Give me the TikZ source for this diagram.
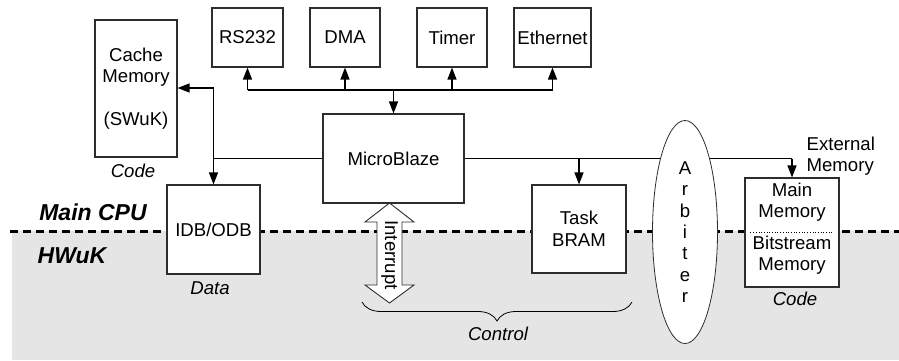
\documentclass[tikz,border=0pt]{standalone}
\usepackage{fontspec}
\setmainfont{Liberation Sans}
\usepackage{tikz}
\definecolor{ln}{RGB}{45,45,45}
\definecolor{hw}{RGB}{229,229,229}
\usetikzlibrary{shapes.geometric,decorations.pathreplacing,arrows.meta}
\def\boxh{59pt}
\newcommand{\txt}{\fontsize{18.6}{21.5}\selectfont}
\newcommand{\blk}[6]{\node[draw=ln,fill=white,rectangle,line width=1.1pt,minimum width=#4,minimum height=#5,inner sep=0pt,align=center,font=\txt] (#3) at (#1,#2) {#6};}
\newcommand{\lbl}[4]{\node[font=\txt\itshape,inner sep=0pt] (#3) at (#1,#2) {#4};}
\tikzset{toarr/.style={-{Triangle[length=12pt,width=9pt]}},
  zone/.style={font=\fontsize{23}{26}\selectfont\bfseries\itshape,inner sep=0pt}}

\begin{document}
\begin{tikzpicture}[x=1pt,y=-1pt,line width=1.3pt]
\useasboundingbox (0,0) rectangle (899,360);
\fill[hw] (12,231) rectangle (899,360);
\draw[line width=3pt,dash pattern=on 8pt off 5pt] (10,231) -- (899,231);
\node[zone] (cpu) at (93,212) {Main CPU};
\node[zone] (hwuk) at (72,256) {HWuK};

\blk{136}{88.5}{cache}{82pt}{137pt}{Cache\\Memory\\[21.5pt](SWuK)}
\blk{247.5}{37.5}{rs}{71pt}{\boxh}{RS232}
\blk{345}{37.5}{dma}{70pt}{\boxh}{DMA}
\blk{452}{37.5}{timer}{70pt}{\boxh}{Timer}
\blk{552.5}{37.5}{eth}{77pt}{\boxh}{Ethernet}
\blk{393.5}{158.5}{mb}{141pt}{89pt}{MicroBlaze}
\blk{213.5}{229.5}{idb}{93pt}{89pt}{IDB/ODB}
\blk{579}{229}{bram}{94pt}{88pt}{Task\\BRAM}
\blk{792}{232.5}{mem}{94pt}{109pt}{}
\node[font=\txt,align=center,inner sep=0pt] (mm) at (792,202) {Main\\Memory};
\node[font=\txt,align=center,inner sep=0pt] (bm) at (792,255) {Bitstream\\Memory};
\draw[dotted,line width=0.7pt] ([xshift=6pt]mem.west) -- ([xshift=-6pt]mem.east);
\node[font=\txt,align=left,inner sep=0pt,anchor=west] (extl) at (806,156) {External\\Memory};

\lbl{133}{171}{codec}{Code}
\lbl{210}{288}{data}{Data}
\lbl{795}{299}{codem}{Code}

% peripheral bus
\coordinate (bus) at (mb.north |- 0,90);
\draw (rs.south |- bus) -- (eth.south |- bus);
\foreach \p in {rs,dma,timer,eth}
  \draw[toarr] (\p.south |- bus) -- (\p.south);
\draw[toarr] (bus) -- (mb.north);

% cache and buffers
\coordinate (cj) at (idb.north |- 0,88);
\draw[toarr] (cj) -- (cache.east |- cj);
\draw[toarr] (cj) -- (idb.north);
\draw (mb.west) -- (mb.west -| cj);

% memory side
\coordinate (rj) at (mem.north |- mb.east);
\draw (mb.east) -- (rj);
\draw[toarr] (rj) -- (mem.north);
\draw[toarr] (bram.north |- mb.east) -- (bram.north);

\node[draw=ln,fill=white,ellipse,line width=0.8pt,minimum width=65pt,minimum height=223pt,inner sep=0pt,align=center,font=\fontsize{18.6}{21.3}\selectfont] (arb) at (685,232) {A\\r\\b\\i\\t\\e\\r};

\draw[draw=ln,fill=white,line width=0.9pt] (389.5,203) -- (414,222) -- (402,222) -- (402,285) -- (414,285) -- (389.5,303) -- (365,285) -- (377,285) -- (377,222) -- (365,222) -- cycle;
\node[rotate=-90,font=\txt,inner sep=0pt] (intr) at (389.5,255) {Interrupt};

\draw[line width=0.8pt,decorate,decoration={brace,amplitude=19pt,mirror}] (362,302) -- (632,302);
\lbl{498}{334}{ctrl}{Control}
\end{tikzpicture}
\end{document}
